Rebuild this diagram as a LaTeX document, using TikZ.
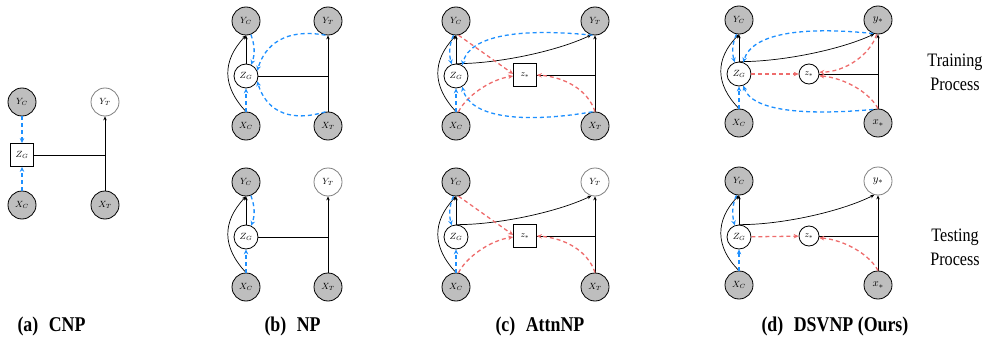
\documentclass[tikz,border=0pt]{standalone}
\usepackage{fontspec}
\setmainfont{Liberation Serif}
\newfontfamily\capfont[FakeStretch=0.85]{Liberation Serif}
\usetikzlibrary{arrows.meta}
\definecolor{bl}{RGB}{30,144,255}
\definecolor{rd}{RGB}{238,108,108}
\definecolor{obsgray}{RGB}{190,190,190}
\begin{document}
\begin{tikzpicture}[x=1pt,y=-1pt,
  nfont/.style={font=\fontsize{8.6}{9}\selectfont},
  obs/.style={circle,draw,line width=0.8pt,fill=obsgray,minimum size=28pt,inner sep=0pt,nfont},
  unobs/.style={circle,draw=gray,line width=0.8pt,fill=white,minimum size=28pt,inner sep=0pt,nfont},
  lat/.style={circle,draw,line width=0.8pt,fill=white,minimum size=24pt,inner sep=0pt,nfont},
  sq/.style={rectangle,draw,line width=0.8pt,fill=white,minimum width=23pt,minimum height=23pt,inner sep=0pt,nfont},
  zst/.style={circle,draw,line width=0.8pt,fill=white,minimum size=20pt,inner sep=0pt,nfont},
  ln/.style={line width=0.7pt},
  arr/.style={line width=0.7pt,-{Stealth[length=4pt,width=3.5pt]}},
  bd/.style={bl,line width=1.3pt,dash pattern=on 4pt off 3pt,-{Stealth[length=5pt,width=4.5pt]}},
  rdd/.style={rd,line width=1.3pt,dash pattern=on 4pt off 3pt,-{Stealth[length=5pt,width=4.5pt]}},
  captext/.style={anchor=west,font={\capfont\bfseries\fontsize{21}{24}\selectfont}},
  sidetext/.style={align=center,font={\capfont\fontsize{19}{24}\selectfont}}
]
\useasboundingbox (0,0) rectangle (988,345);

% ---------------- (a) CNP
\node[obs] (aYC) at (22,102) {$Y_C$};
\node[sq] (aZG) at (22,155) {$Z_G$};
\node[obs] (aXC) at (22,205) {$X_C$};
\node[unobs] (aYT) at (105,102) {$Y_T$};
\node[obs] (aXT) at (105,205) {$X_T$};
\coordinate (aJ) at (105,155);
\draw[ln] (aZG) -- (aJ);
\draw[arr] (aXT) -- (aYT);
\draw[bd] (aYC) -- (aZG);
\draw[bd] (aXC) -- (aZG);

% ---------------- (b) NP top
\node[obs] (bYC) at (246,21) {$Y_C$};
\node[lat] (bZG) at (246,76) {$Z_G$};
\node[obs] (bXC) at (246,126) {$X_C$};
\node[obs] (bYT) at (328,21) {$Y_T$};
\node[obs] (bXT) at (328,126) {$X_T$};
\coordinate (bJ) at (328,76);
\draw[arr] (bZG) -- (bYC);
\draw[arr] (bXC.north) .. controls (222,86) and (222,61) .. (bYC.south);
\draw[ln] (bZG) -- (bJ);
\draw[arr] (bXT) -- (bYT);
\draw[bd] (bXC) -- (bZG);
\draw[bd] (bYC.-70) .. controls (255,46) and (255,54) .. (bZG.65);
\draw[bd] (bYT.-100) .. controls (285,28) and (265,45) .. (bZG.25);
\draw[bd] (bXT.100) .. controls (285,124) and (265,107) .. (bZG.-25);

% ---------------- (b) NP bottom
\node[obs] (eYC) at (246,182) {$Y_C$};
\node[lat] (eZG) at (246,237) {$Z_G$};
\node[obs] (eXC) at (246,287) {$X_C$};
\node[unobs] (eYT) at (328,182) {$Y_T$};
\node[obs] (eXT) at (328,287) {$X_T$};
\coordinate (eJ) at (328,237);
\draw[arr] (eZG) -- (eYC);
\draw[arr] (eXC.north) .. controls (222,247) and (222,222) .. (eYC.south);
\draw[ln] (eZG) -- (eJ);
\draw[arr] (eXT) -- (eYT);
\draw[bd] (eXC) -- (eZG);
\draw[bd] (eYC.-70) .. controls (255,207) and (255,215) .. (eZG.65);

% ---------------- (c) AttnNP top
\node[obs] (cYC) at (456,21) {$Y_C$};
\node[lat] (cZG) at (456,76) {$Z_G$};
\node[obs] (cXC) at (456,126) {$X_C$};
\node[obs] (cYT) at (595,21) {$Y_T$};
\node[obs] (cXT) at (595,126) {$X_T$};
\node[sq] (cz) at (525,75) {$z_*$};
\coordinate (cJ) at (595,75);
\draw[arr] (cZG) -- (cYC);
\draw[arr] (cXC.north) .. controls (432,86) and (432,61) .. (cYC.south);
\draw[arr] (cZG.north) .. controls (495,64) and (555,52) .. (cYT.-105);
\draw[ln] (cz) -- (cJ);
\draw[arr] (cXT) -- (cYT);
\draw[rdd] (cYC.-80) -- (cz.175);
\draw[rdd] (cXC.80) .. controls (465,98) and (488,80) .. (cz.185);
\draw[rdd] (cXT.north) .. controls (588,90) and (565,77) .. (cz.east);
\draw[bd] (cYC.-100) .. controls (449,45) and (449,55) .. (cZG.110);
\draw[bd] (cXC) -- (cZG);
\draw[bd] (cYT.-100) .. controls (520,28) and (470,35) .. (cZG.60);
\draw[bd] (cXT.100) .. controls (520,124) and (470,117) .. (cZG.-60);

% ---------------- (c) AttnNP bottom
\node[obs] (fYC) at (456,182) {$Y_C$};
\node[lat] (fZG) at (456,237) {$Z_G$};
\node[obs] (fXC) at (456,287) {$X_C$};
\node[unobs] (fYT) at (595,182) {$Y_T$};
\node[obs] (fXT) at (595,287) {$X_T$};
\node[sq] (fz) at (525,236) {$z_*$};
\coordinate (fJ) at (595,236);
\draw[arr] (fZG) -- (fYC);
\draw[arr] (fXC.north) .. controls (432,247) and (432,222) .. (fYC.south);
\draw[arr] (fZG.north) .. controls (495,225) and (555,213) .. (fYT.-105);
\draw[ln] (fz) -- (fJ);
\draw[arr] (fXT) -- (fYT);
\draw[rdd] (fYC.-80) -- (fz.175);
\draw[rdd] (fXC.80) .. controls (465,259) and (488,241) .. (fz.185);
\draw[rdd] (fXT.north) .. controls (588,251) and (565,238) .. (fz.east);
\draw[bd] (fYC.-100) .. controls (449,206) and (449,216) .. (fZG.110);
\draw[bd] (fXC) -- (fZG);

% ---------------- (d) DSVNP top
\node[obs] (dYC) at (739,20) {$Y_C$};
\node[lat] (dZG) at (739,74) {$Z_G$};
\node[obs] (dXC) at (739,123) {$X_C$};
\node[obs,font=\fontsize{11}{12}\selectfont] (dys) at (878,20) {$y_*$};
\node[obs,font=\fontsize{11}{12}\selectfont] (dxs) at (878,123) {$x_*$};
\node[zst] (dzs) at (809,74) {$z_*$};
\coordinate (dJ) at (878,74);
\draw[arr] (dZG) -- (dYC);
\draw[arr] (dXC.north) .. controls (715,84) and (715,59) .. (dYC.south);
\draw[arr] (dZG.north) .. controls (780,62) and (840,50) .. (dys.-105);
\draw[ln] (dzs) -- (dJ);
\draw[arr] (dxs) -- (dys);
\draw[rdd] (dZG) -- (dzs);
\draw[rdd] (dys.-95) .. controls (870,55) and (845,72) .. (dzs.10);
\draw[rdd] (dxs.north) .. controls (870,93) and (845,78) .. (dzs.-10);
\draw[bd] (dYC.-100) .. controls (732,44) and (732,53) .. (dZG.110);
\draw[bd] (dXC) -- (dZG);
\draw[bd] (dys.-110) .. controls (800,26) and (752,34) .. (dZG.70);
\draw[bd] (dxs.110) .. controls (800,116) and (752,110) .. (dZG.-70);

% ---------------- (d) DSVNP bottom
\node[obs] (gYC) at (739,181) {$Y_C$};
\node[lat] (gZG) at (739,237) {$Z_G$};
\node[obs] (gXC) at (739,285) {$X_C$};
\node[unobs,font=\fontsize{11}{12}\selectfont] (gys) at (878,181) {$y_*$};
\node[obs,font=\fontsize{11}{12}\selectfont] (gxs) at (878,285) {$x_*$};
\node[zst] (gzs) at (809,236) {$z_*$};
\coordinate (gJ) at (878,236);
\draw[arr] (gZG) -- (gYC);
\draw[arr] (gXC.north) .. controls (715,247) and (715,220) .. (gYC.south);
\draw[arr] (gZG.north) .. controls (780,225) and (840,212) .. (gys.-105);
\draw[ln] (gzs) -- (gJ);
\draw[arr] (gxs) -- (gys);
\draw[rdd] (gZG) -- (gzs);
\draw[rdd] (gxs.north) .. controls (870,255) and (845,240) .. (gzs.-10);
\draw[bd] (gYC.-100) .. controls (732,205) and (732,215) .. (gZG.110);
\draw[bd] (gXC) -- (gZG);

% ---------------- side labels and captions
\node[sidetext] (tr) at (955,72) {Training\\Process};
\node[sidetext] (te) at (955,247) {Testing\\Process};
\node[captext] (ca) at (14,326) {(a)\hspace{0.5em}CNP};
\node[captext] (cb) at (261,326) {(b)\hspace{0.5em}NP};
\node[captext] (cc) at (492,326) {(c)\hspace{0.5em}AttnNP};
\node[captext] (cd) at (758,326) {(d)\hspace{0.5em}DSVNP (Ours)};
\end{tikzpicture}
\end{document}
